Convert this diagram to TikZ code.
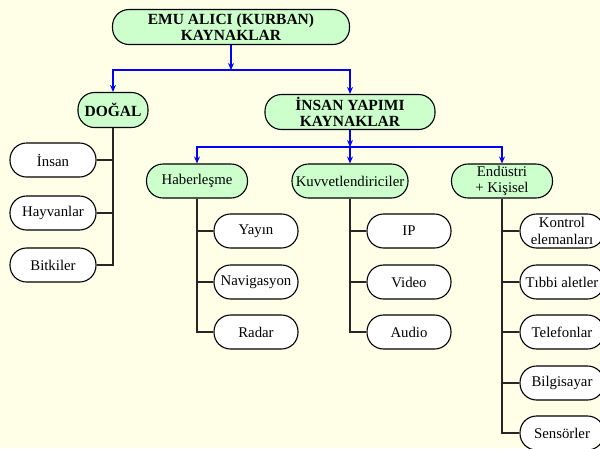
\documentclass[tikz,border=0pt]{standalone}
\usepackage{fontspec}
\setmainfont{Liberation Serif}
\usetikzlibrary{arrows.meta}

\definecolor{paperyellow}{HTML}{FFFFE8}
\definecolor{pillgreen}{HTML}{CCFFCC}

\tikzset{
  pill/.style={draw=black, line width=1.1pt, rounded corners=16.5pt,
    minimum height=34pt, align=center, inner sep=1pt,
    font=\fontsize{14.8}{15}\selectfont},
  greenpill/.style={pill, fill=pillgreen},
  boldpill/.style={greenpill, font=\fontsize{15.5}{16}\selectfont\bfseries},
  leafpill/.style={pill, fill=white, minimum width=84pt},
  bluearrow/.style={draw=blue, line width=1.3pt,
    -{Stealth[length=7pt, width=6pt]}},
  trunk/.style={draw=black!85, line width=1.5pt}
}

\begin{document}
\begin{tikzpicture}[x=1pt, y=-1pt]
    \path [use as bounding box] (0, 0) rectangle (600, 448);
    \fill[paperyellow] (0, 0) rectangle (600, 448);
    \clip (0, 0) rectangle (600, 448);

    % top level
    \node[boldpill, minimum width=237pt, minimum height=35pt]
      (emu) at (231, 27) {EMU ALICI (KURBAN)\\KAYNAKLAR};
    \node[boldpill, minimum width=70pt, minimum height=35pt]
      (dogal) at (113, 110) {DOĞAL};
    \node[boldpill, minimum width=170pt, minimum height=35pt]
      (insan) at (350, 112) {İNSAN YAPIMI\\KAYNAKLAR};

    \coordinate (splita) at (231, 70);
    \draw[bluearrow] (emu.south) -- (splita);
    \draw[bluearrow] (splita) -| (dogal.north);
    \draw[bluearrow] (splita) -| (insan.north);

    % second level
    \node[greenpill, minimum width=101pt] (haber) at (197, 181) {Haberleşme};
    \node[greenpill, minimum width=116pt] (kuvvet) at (350, 181)
      {Kuvvetlendiriciler};
    \node[greenpill, minimum width=101pt,
      font=\fontsize{14.8}{16}\selectfont] (endustri) at (502, 181)
      {Endüstri\\+ Kişisel};

    \coordinate (splitb) at (350, 147);
    \draw[bluearrow] (insan.south) -- (splitb);
    \foreach \grp in {haber, kuvvet, endustri} {
      \draw[bluearrow] (splitb) -| (\grp.north);
    }

    % leaves
    \foreach \leaf/\txt/\yd in {ins/İnsan/160, hay/Hayvanlar/213,
        bit/Bitkiler/265} {
      \node[leafpill, minimum width=86pt] (\leaf) at (53, \yd) {\txt};
      \draw[trunk] (dogal.south) |- (\leaf.east);
    }
    \foreach \leaf/\txt/\yd in {yay/Yayın/231, nav/Navigasyon/282,
        rad/Radar/332} {
      \node[leafpill] (\leaf) at (256, \yd) {\txt};
      \draw[trunk] (haber.south) |- (\leaf.west);
    }
    \foreach \leaf/\txt/\yd in {ip/IP/231, vid/Video/282, aud/Audio/332} {
      \node[leafpill] (\leaf) at (409, \yd) {\txt};
      \draw[trunk] (kuvvet.south) |- (\leaf.west);
    }
    \foreach \leaf/\txt/\yd in {kon/Kontrol\\elemanları/231,
        tib/Tıbbi aletler/282, tel/Telefonlar/332,
        bil/Bilgisayar/383, sen/Sensörler/433} {
      \node[leafpill, font=\fontsize{14.8}{17}\selectfont]
        (\leaf) at (562, \yd) {\txt};
      \draw[trunk] (endustri.south) |- (\leaf.west);
    }
\end{tikzpicture}
\end{document}
